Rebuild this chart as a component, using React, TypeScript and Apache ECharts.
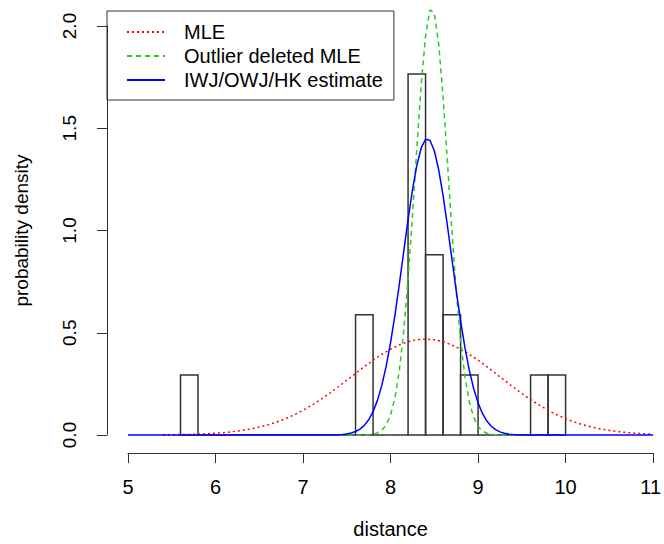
import React, { useEffect, useRef } from "react";
import * as echarts from "echarts";

// Histogram (density scale): bin left edges, bin right edges, densities
const binStart = [5.6, 5.8, 6.0, 6.2, 6.4, 6.6, 6.8, 7.0, 7.2, 7.4, 7.6, 7.8, 8.0, 8.2, 8.4, 8.6, 8.8, 9.0, 9.2, 9.4, 9.6, 9.8];
const binEnd = [5.8, 6.0, 6.2, 6.4, 6.6, 6.8, 7.0, 7.2, 7.4, 7.6, 7.8, 8.0, 8.2, 8.4, 8.6, 8.8, 9.0, 9.2, 9.4, 9.6, 9.8, 10.0];
const binDensity = [0.294, 0, 0, 0, 0, 0, 0, 0, 0, 0, 0.588, 0, 0, 1.765, 0.882, 0.588, 0.294, 0, 0, 0, 0.294, 0.294];

// MLE curve (red dotted)
const mleX = [5.4, 5.5, 5.6, 5.7, 5.8, 5.9, 6.0, 6.1, 6.2, 6.3, 6.4, 6.5, 6.6, 6.7, 6.8, 6.9, 7.0, 7.1, 7.2, 7.3, 7.4, 7.5, 7.6, 7.7, 7.8, 7.9, 8.0, 8.1, 8.2, 8.3, 8.4, 8.5, 8.6, 8.7, 8.8, 8.9, 9.0, 9.1, 9.2, 9.3, 9.4, 9.5, 9.6, 9.7, 9.8, 9.9, 10.0, 10.1, 10.2, 10.3, 10.4, 10.5, 10.6, 10.7, 10.8, 10.9, 11.0];
const mleY = [0.0009, 0.0014, 0.0021, 0.003, 0.0044, 0.0062, 0.0087, 0.0121, 0.0165, 0.0222, 0.0294, 0.0386, 0.0498, 0.0635, 0.0797, 0.0989, 0.1208, 0.1456, 0.1731, 0.203, 0.2348, 0.2677, 0.3012, 0.3341, 0.3656, 0.3945, 0.4198, 0.4407, 0.4562, 0.4658, 0.469, 0.4658, 0.4562, 0.4407, 0.4198, 0.3945, 0.3656, 0.3341, 0.3012, 0.2677, 0.2348, 0.203, 0.1731, 0.1456, 0.1208, 0.0989, 0.0797, 0.0635, 0.0498, 0.0386, 0.0294, 0.0222, 0.0165, 0.0121, 0.0087, 0.0062, 0.0044];

// Outlier deleted MLE curve (green dashed)
const odX = [7.4, 7.5, 7.6, 7.7, 7.75, 7.8, 7.85, 7.9, 7.95, 8.0, 8.05, 8.1, 8.15, 8.2, 8.25, 8.3, 8.35, 8.4, 8.45, 8.5, 8.55, 8.6, 8.65, 8.7, 8.75, 8.8, 8.85, 8.9, 8.95, 9.0, 9.05, 9.1, 9.15, 9.2, 9.3, 9.45];
const odY = [0, 0, 0.0001, 0.0006, 0.0016, 0.0042, 0.0102, 0.0232, 0.0494, 0.098, 0.1817, 0.3139, 0.5062, 0.7614, 1.0692, 1.4007, 1.7121, 1.9529, 2.0785, 2.0641, 1.9128, 1.6538, 1.3343, 1.0044, 0.7056, 0.4625, 0.2829, 0.1614, 0.0859, 0.0427, 0.0198, 0.0086, 0.0035, 0.0013, 0.0001, 0];

// IWJ/OWJ/HK estimate curve (blue solid)
const hkX = [5.0, 7.2, 7.3, 7.4, 7.45, 7.5, 7.55, 7.6, 7.65, 7.7, 7.75, 7.8, 7.85, 7.9, 7.95, 8.0, 8.05, 8.1, 8.15, 8.2, 8.25, 8.3, 8.35, 8.4, 8.45, 8.5, 8.55, 8.6, 8.65, 8.7, 8.75, 8.8, 8.85, 8.9, 8.95, 9.0, 9.05, 9.1, 9.15, 9.2, 9.25, 9.3, 9.35, 9.4, 9.45, 9.6, 11.0];
const hkY = [0, 0, 0.0004, 0.0015, 0.0029, 0.0054, 0.0097, 0.017, 0.0288, 0.0471, 0.0746, 0.1142, 0.1693, 0.2426, 0.3367, 0.4518, 0.5865, 0.7369, 0.8955, 1.0529, 1.1978, 1.3183, 1.4037, 1.4462, 1.4414, 1.39, 1.2967, 1.1706, 1.0221, 0.8636, 0.7059, 0.5584, 0.4272, 0.3162, 0.2264, 0.1571, 0.1053, 0.0683, 0.0428, 0.026, 0.0153, 0.0087, 0.0048, 0.0025, 0.0013, 0.0002, 0];

const xTicks = { min: 5, max: 11, interval: 1 };
const yTicks = { min: 0, max: 2, interval: 0.5 };

const FONT = "'Liberation Sans', Arial, sans-serif";
const AXIS_COLOR = "#333";

export default function App() {
  const ref = useRef<HTMLDivElement>(null);

  useEffect(() => {
    if (!ref.current) return;
    document.documentElement.style.overflow = "hidden";
    document.body.style.margin = "0";
    document.body.style.overflow = "hidden";
    const chart = echarts.init(ref.current, null, { renderer: "svg" });

    const histData = binStart.map((s, i) => [s, binEnd[i], binDensity[i]]);
    const zip = (xs: number[], ys: number[]) => xs.map((x, i) => [x, ys[i]]);

    chart.setOption({
      animation: false,
      backgroundColor: "#fff",
      textStyle: { fontFamily: FONT },
      grid: { left: 128, right: 9, top: 26, bottom: 106 },
      legend: {
        orient: "vertical",
        left: 107,
        top: 11,
        padding: [11, 11, 10, 19],
        borderColor: AXIS_COLOR,
        borderWidth: 1,
        itemWidth: 38,
        itemHeight: 10,
        itemGap: 4,
        selectedMode: false,
        itemStyle: { opacity: 0 },
        textStyle: { fontSize: 20, fontFamily: FONT, color: "#000", padding: [0, 0, 0, 14] },
        data: ["MLE", "Outlier deleted MLE", "IWJ/OWJ/HK estimate"],
      },
      xAxis: {
        type: "value",
        min: xTicks.min,
        max: xTicks.max,
        interval: xTicks.interval,
        offset: 18,
        name: "distance",
        nameLocation: "middle",
        nameGap: 67,
        nameTextStyle: { fontSize: 20, lineHeight: 18, fontFamily: FONT, color: "#000" },
        axisLine: { show: true, onZero: false, lineStyle: { color: AXIS_COLOR, width: 1 } },
        axisTick: { show: true, length: 10, lineStyle: { color: AXIS_COLOR } },
        axisLabel: {
          fontSize: 20,
          fontFamily: FONT,
          color: "#000",
          margin: 24,
          formatter: (v: number) => (v === xTicks.max ? "{e|" + v + "}" : String(v)),
          rich: {
            e: { fontSize: 20, fontFamily: FONT, color: "#000", padding: [0, 5, 0, 0] },
          },
        },
        splitLine: { show: false },
      },
      yAxis: {
        type: "value",
        min: yTicks.min,
        max: yTicks.max,
        interval: yTicks.interval,
        offset: 21,
        name: "probability density",
        nameLocation: "middle",
        nameGap: 76,
        nameTextStyle: { fontSize: 19, fontFamily: FONT, color: "#000" },
        axisLine: { show: true, onZero: false, lineStyle: { color: AXIS_COLOR, width: 1 } },
        axisTick: { show: true, length: 10, lineStyle: { color: AXIS_COLOR } },
        axisLabel: {
          fontSize: 19,
          fontFamily: FONT,
          color: "#000",
          rotate: 90,
          margin: 28,
          formatter: (v: number) => v.toFixed(1),
        },
        splitLine: { show: false },
      },
      series: [
        {
          type: "custom",
          name: "hist",
          data: histData,
          clip: false,
          renderItem: (params: any, api: any) => {
            const p0 = api.coord([api.value(0), 0]);
            const p1 = api.coord([api.value(1), api.value(2)]);
            return {
              type: "rect",
              shape: { x: p0[0], y: p1[1], width: p1[0] - p0[0], height: p0[1] - p1[1] },
              style: { fill: "none", stroke: "#333", lineWidth: 1.5 },
            };
          },
          encode: { x: [0, 1], y: 2 },
        },
        {
          type: "line",
          name: "MLE",
          data: zip(mleX, mleY),
          symbol: "none",
          clip: false,
          lineStyle: { color: "#FF0000", width: 1.5, type: [2, 3] },
          itemStyle: { color: "#FF0000" },
        },
        {
          type: "line",
          name: "Outlier deleted MLE",
          data: zip(odX, odY),
          symbol: "none",
          clip: false,
          lineStyle: { color: "#22D022", width: 1.5, type: [5, 4] },
          itemStyle: { color: "#22D022" },
        },
        {
          type: "line",
          name: "IWJ/OWJ/HK estimate",
          data: zip(hkX, hkY),
          symbol: "none",
          clip: false,
          lineStyle: { color: "#0000FF", width: 1.5, type: "solid" },
          itemStyle: { color: "#0000FF" },
        },
      ],
    });

    return () => chart.dispose();
  }, []);

  return (
    <div
      ref={ref}
      style={{
        position: "fixed",
        left: 0,
        top: 0,
        width: 664,
        height: 544,
        overflow: "hidden",
        background: "#fff",
      }}
    />
  );
}
